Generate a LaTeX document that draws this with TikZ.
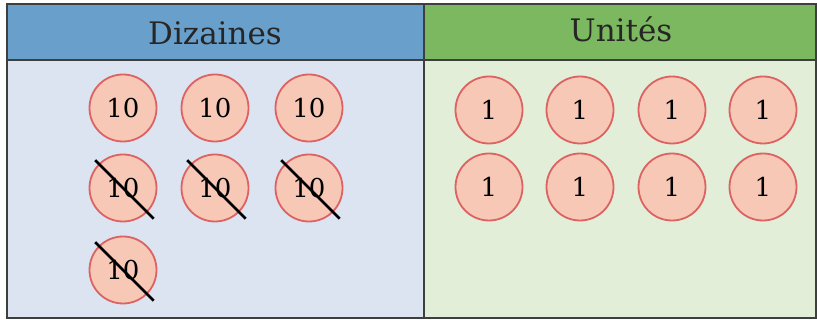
\documentclass[tikz,border=0pt]{standalone}
\usepackage{fontspec}
\setmainfont{DejaVu Serif}
\definecolor{dzhead}{HTML}{699FCB}
\definecolor{dzbody}{HTML}{DCE4F1}
\definecolor{unhead}{HTML}{7CB85F}
\definecolor{unbody}{HTML}{E2EED7}
\definecolor{jeton}{HTML}{F7C8B6}
\definecolor{jetonbord}{HTML}{DD6262}
\definecolor{cadre}{HTML}{3C3F3E}
\begin{document}
\begin{tikzpicture}[x=1pt,y=-1pt,
  jeton/.style={circle,draw=jetonbord,fill=jeton,line width=1.8pt,minimum size=67pt,inner sep=0pt,font=\fontsize{26}{28}\selectfont},
  titre/.style={font=\fontsize{31}{34}\selectfont,text=black!85}]
\useasboundingbox (0,0) rectangle (817,320);
% fonds
\fill[dzhead] (7,4) rectangle (424,60);
\fill[unhead] (424,4) rectangle (816,60);
\fill[dzbody] (7,60) rectangle (424,318);
\fill[unbody] (424,60) rectangle (816,318);
\draw[cadre,line width=2pt] (7,4) rectangle (816,318);
\draw[cadre,line width=2pt] (7,60) -- (816,60);
\draw[cadre,line width=2pt] (424,4) -- (424,318);
\node[titre] (dizaines) at (215,33) {Dizaines};
\node[titre] (unites) at (621,29) {Unités};
% dizaines
\foreach \x/\n in {123/1,215/2,309/3}{ \node[jeton] (dz\n) at (\x,108) {10}; }
\foreach \x/\n in {123/4,215/5,309/6}{ \node[jeton] (dz\n) at (\x,188) {10}; }
\node[jeton] (dz7) at (123,270) {10};
\foreach \n in {4,5,6,7}{ \draw[line width=2.8pt,shorten <=-5pt,shorten >=-9pt] (dz\n.north west) -- (dz\n.south east); }
% unites
\foreach \x/\n in {489/1,580/2,672/3,763/4}{ \node[jeton] (un\n) at (\x,110) {1}; }
\foreach \x/\n in {489/5,580/6,672/7,763/8}{ \node[jeton] (un\n) at (\x,187) {1}; }
\end{tikzpicture}
\end{document}
